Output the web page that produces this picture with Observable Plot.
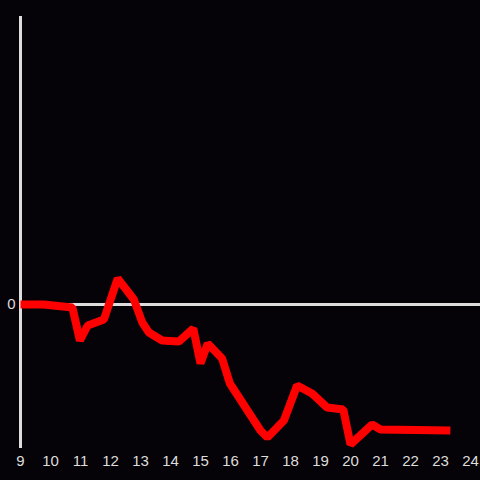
<!DOCTYPE html>
<html><head><meta charset="utf-8">
<script src="https://cdn.jsdelivr.net/npm/d3@7"></script>
<script src="https://cdn.jsdelivr.net/npm/@observablehq/plot@0.6"></script>
<style>
html,body{margin:0;padding:0;background:#050307;}
</style></head><body>
<div id="chart"></div>
<script>
const xs = [9, 9.77, 10.73, 10.98, 11.24, 11.78, 12.24, 12.78, 13.06, 13.28, 13.72, 14.28, 14.76, 15.0, 15.24, 15.72, 15.98, 17.0, 17.23, 17.78, 18.22, 18.72, 19.22, 19.76, 20.0, 20.72, 21.0, 23.33];
const ys = [0, 0, -3, -36, -21, -15, 26, 5, -18, -28, -36, -37, -24, -59, -39, -54, -79, -126, -133, -116, -81, -89, -103, -105, -140, -120, -125, -126];
const xTicks = [9,10,11,12,13,14,15,16,17,18,19,20,21,22,23,24];
const yTicks = [0];

const data = xs.map((x, i) => ({x, y: ys[i]}));

const chart = Plot.plot({
  width: 480, height: 480,
  marginLeft: 20, marginRight: 0, marginTop: 16, marginBottom: 32,
  style: {background: "#050307", color: "#dddddd", fontSize: "15px", fontFamily: "Liberation Sans, sans-serif"},
  x: {domain: [9, 24 + 1/3], ticks: xTicks, tickSize: 0, tickPadding: 7, tickFormat: d => String(d), label: null},
  y: {domain: [-144, 288], ticks: yTicks, tickSize: 0, tickPadding: 5, label: null},
  marks: [
    Plot.ruleY([0], {stroke: "#dddddd", strokeWidth: 3}),
    Plot.ruleX([9], {stroke: "#dddddd", strokeWidth: 3}),
    Plot.line(data, {x: "x", y: "y", stroke: "#ff0000", strokeWidth: 8, strokeLinejoin: "miter", strokeLinecap: "butt"})
  ]
});
document.getElementById("chart").appendChild(chart);
</script>
</body></html>
